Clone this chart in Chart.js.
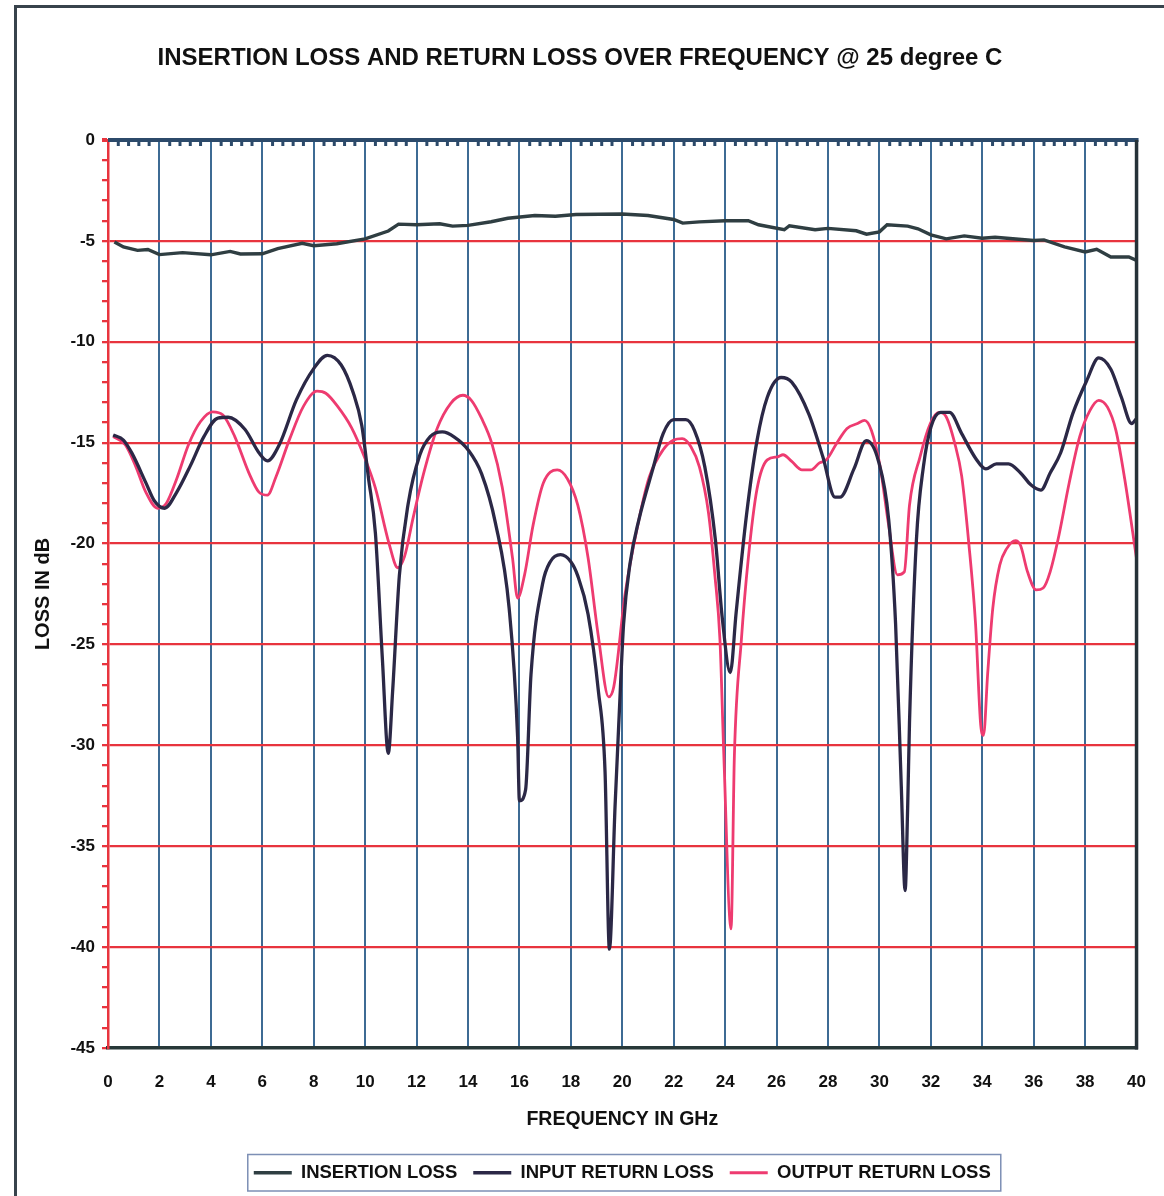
<!DOCTYPE html>
<html>
<head>
<meta charset="utf-8">
<script src="https://cdn.jsdelivr.net/npm/chart.js@4.4.1/dist/chart.umd.min.js"></script>
<style>
html,body{margin:0;padding:0;background:#fff;}
#wrap{width:1164px;height:1196px;position:relative;}
</style>
</head>
<body>
<div id="wrap"><canvas id="c" width="1164" height="1196"></canvas></div>
<script>
const chartTitle = 'INSERTION LOSS AND RETURN LOSS OVER FREQUENCY @ 25 degree C';
const xAxisTitle = 'FREQUENCY IN GHz';
const yAxisTitle = 'LOSS IN dB';
const seriesNames = ['INSERTION LOSS', 'INPUT RETURN LOSS', 'OUTPUT RETURN LOSS'];

// Insertion loss (GHz, dB)
const ilFreq = [0.25,0.6,1.15,1.55,2.0,2.9,4.0,4.75,5.15,6.0,6.6,7.55,8.0,8.9,10.0,10.9,11.3,12.0,12.9,13.4,14.0,14.9,15.55,16.6,17.4,18.2,20.0,21.0,22.0,22.35,23.0,24.0,24.9,25.3,26.3,26.5,27.5,28.0,29.1,29.5,30.0,30.3,31.1,31.5,32.0,32.6,33.3,34.0,34.5,36.0,36.4,37.2,38.0,38.45,39.0,39.7,40.0];
const ilLoss = [-5.05,-5.3,-5.47,-5.43,-5.68,-5.58,-5.69,-5.52,-5.65,-5.64,-5.38,-5.12,-5.24,-5.14,-4.9,-4.51,-4.17,-4.2,-4.15,-4.27,-4.23,-4.05,-3.88,-3.74,-3.78,-3.69,-3.67,-3.74,-3.94,-4.12,-4.06,-4.0,-4.0,-4.2,-4.45,-4.25,-4.45,-4.38,-4.5,-4.67,-4.55,-4.2,-4.27,-4.4,-4.7,-4.9,-4.75,-4.87,-4.82,-4.98,-4.95,-5.3,-5.55,-5.42,-5.8,-5.8,-5.97];

// Input return loss
const irlFreq = [0.2,0.6,0.93,1.47,1.8,2.2,2.67,3.2,3.73,4.27,4.67,5.33,5.87,6.2,6.67,7.33,8.0,8.53,9.07,9.53,9.87,10.13,10.4,10.67,10.9,11.07,11.33,11.67,12.13,12.53,13.0,13.47,14.0,14.53,15.07,15.6,15.93,16.0,16.24,16.45,16.9,17.2,17.6,18.0,18.27,18.67,19.07,19.33,19.5,19.72,19.88,20.05,20.3,20.65,21.19,21.59,22.0,22.47,22.81,23.21,23.62,23.89,24.2,24.43,24.83,25.24,25.64,26.18,26.59,27.26,27.8,28.27,28.47,29.01,29.49,29.96,30.36,30.63,30.85,31.0,31.1,31.17,31.44,31.71,32.01,32.39,32.73,33.2,33.74,34.14,34.55,35.02,35.49,35.9,36.28,36.64,37.05,37.52,38.06,38.53,39.0,39.41,39.81,40.0];
const irlLoss = [-14.62,-14.87,-15.52,-16.98,-17.88,-18.25,-17.46,-16.15,-14.7,-13.78,-13.74,-14.35,-15.5,-15.9,-15.08,-12.87,-11.33,-10.67,-11.15,-12.5,-14.15,-16.75,-19.5,-25.7,-30.4,-27.3,-21.6,-18.05,-15.6,-14.7,-14.47,-14.72,-15.35,-16.55,-19.0,-23.2,-29.6,-32.75,-32.2,-26.5,-22.0,-20.9,-20.55,-20.9,-21.6,-23.5,-27.3,-31.3,-40.1,-33.0,-28.5,-24.0,-21.0,-18.8,-16.3,-14.55,-13.86,-13.86,-14.4,-16.2,-19.8,-23.7,-26.4,-23.4,-18.6,-14.9,-12.75,-11.77,-12.0,-13.6,-15.7,-17.7,-17.7,-16.3,-14.9,-15.9,-18.8,-24.0,-32.0,-37.2,-33.0,-28.9,-19.8,-16.2,-14.2,-13.5,-13.5,-14.55,-15.77,-16.3,-16.05,-16.05,-16.5,-17.1,-17.35,-16.5,-15.5,-13.56,-11.93,-10.8,-11.36,-12.75,-14.05,-13.8];

// Output return loss
const orlFreq = [0.2,0.67,1.07,1.47,1.93,2.27,2.67,3.13,3.6,4.07,4.47,4.93,5.47,5.87,6.2,6.53,7.07,7.6,8.13,8.47,8.93,9.47,10.0,10.4,10.93,11.27,11.53,11.87,12.27,12.8,13.33,13.8,14.13,14.53,14.93,15.33,15.73,15.93,16.2,16.53,16.93,17.47,17.87,18.27,18.67,19.07,19.47,19.67,20.11,20.65,21.05,21.59,22.0,22.33,22.67,23.0,23.35,23.6,23.8,23.95,24.23,24.36,24.63,24.9,25.24,25.64,26.05,26.25,26.59,26.99,27.33,27.67,27.94,28.34,28.74,29.15,29.42,29.69,30.03,30.36,30.7,30.97,31.17,31.58,31.98,32.32,32.59,32.93,33.2,33.47,33.74,33.94,34.05,34.21,34.41,34.68,34.95,35.29,35.49,35.76,36.1,36.37,36.64,36.98,37.38,37.79,38.19,38.53,38.87,39.2,39.54,40.0];
const orlLoss = [-14.7,-15.1,-16.15,-17.45,-18.25,-18.0,-16.8,-15.1,-13.95,-13.47,-13.63,-14.7,-16.47,-17.45,-17.6,-16.7,-14.8,-13.2,-12.45,-12.55,-13.2,-14.25,-15.8,-17.25,-20.0,-21.2,-20.65,-18.7,-16.55,-14.3,-13.05,-12.65,-12.9,-13.8,-15.05,-17.2,-20.7,-22.7,-21.55,-19.1,-17.0,-16.35,-16.8,-18.1,-20.7,-24.6,-27.6,-27.1,-22.5,-18.8,-16.7,-15.35,-14.87,-14.8,-15.2,-16.2,-18.45,-21.55,-24.8,-30.5,-39.1,-30.5,-24.8,-20.75,-17.3,-15.85,-15.7,-15.6,-15.93,-16.35,-16.35,-16.0,-15.85,-15.03,-14.3,-14.05,-13.9,-14.4,-16.2,-19.1,-21.55,-21.4,-18.1,-15.7,-14.05,-13.5,-13.7,-15.03,-16.66,-19.9,-24.0,-29.0,-29.5,-26.45,-23.2,-21.07,-20.25,-19.85,-20.1,-21.4,-22.3,-22.2,-21.4,-19.6,-17.0,-14.7,-13.4,-12.9,-13.24,-14.4,-16.8,-20.75];

const FONT = "'Liberation Sans', Arial, sans-serif";
const RED = '#e8343e';
const BLUE = '#3d6b94';
const pts = (xs, ys) => xs.map((x, i) => ({x: x, y: ys[i]}));

const decor = {
  id: 'decor',
  beforeDraw(chart) {
    const ctx = chart.ctx;
    ctx.save();
    ctx.fillStyle = '#fff';
    ctx.fillRect(0, 0, chart.width, chart.height);
    ctx.strokeStyle = '#38434c';
    ctx.lineWidth = 3;
    ctx.beginPath();
    ctx.moveTo(15.5, chart.height);
    ctx.lineTo(15.5, 6.5);
    ctx.lineTo(chart.width, 6.5);
    ctx.stroke();
    ctx.restore();
  },
  afterDraw(chart) {
    const ctx = chart.ctx;
    const a = chart.chartArea;
    const x = chart.scales.x;
    ctx.save();
    ctx.strokeStyle = '#2c4a6a';
    ctx.lineWidth = 3;
    for (let k = 1; k < 100; k++) {
      if (k % 5 === 0) continue;
      const px = x.getPixelForValue(k * 0.4);
      ctx.beginPath();
      ctx.moveTo(px, a.top);
      ctx.lineTo(px, a.top + 6);
      ctx.stroke();
    }
    ctx.lineWidth = 4;
    ctx.beginPath();
    ctx.moveTo(a.left, a.top);
    ctx.lineTo(a.right + 2, a.top);
    ctx.stroke();
    ctx.strokeStyle = '#263238';
    ctx.lineWidth = 3.5;
    ctx.beginPath();
    ctx.moveTo(a.right, a.top);
    ctx.lineTo(a.right, a.bottom + 1.5);
    ctx.stroke();
    const hb = chart.legend && chart.legend.legendHitBoxes;
    if (hb && hb.length) {
      const l = hb[0].left - 6;
      const last = hb[hb.length - 1];
      const r = last.left + last.width + 10;
      const t = hb[0].top - 9;
      const b = hb[0].top + hb[0].height + 9;
      ctx.strokeStyle = '#7d8fb5';
      ctx.lineWidth = 1.5;
      ctx.strokeRect(l, t, r - l, b - t);
    }
    ctx.restore();
  }
};

new Chart(document.getElementById('c'), {
  type: 'line',
  data: {
    datasets: [
      {label: seriesNames[0], data: pts(ilFreq, ilLoss), borderColor: '#2f3e42', backgroundColor: '#2f3e42', borderWidth: 3.4, pointRadius: 0, tension: 0, fill: false},
      {label: seriesNames[1], data: pts(irlFreq, irlLoss), borderColor: '#2b2846', backgroundColor: '#2b2846', borderWidth: 3.3, pointRadius: 0, cubicInterpolationMode: 'monotone', fill: false},
      {label: seriesNames[2], data: pts(orlFreq, orlLoss), borderColor: '#ee3b70', backgroundColor: '#ee3b70', borderWidth: 2.8, pointRadius: 0, cubicInterpolationMode: 'monotone', fill: false}
    ]
  },
  options: {
    responsive: false,
    animation: false,
    devicePixelRatio: 1,
    layout: {padding: {left: 20, right: 24, top: 0, bottom: 4}},
    plugins: {
      tooltip: {enabled: false},
      title: {
        display: true,
        text: chartTitle,
        color: '#111',
        font: {family: FONT, size: 24, weight: 'bold'},
        padding: {top: 44, bottom: 67.2}
      },
      legend: {
        position: 'bottom',
        fullSize: false,
        labels: {
          usePointStyle: true,
          pointStyle: 'line',
          pointStyleWidth: 38,
          boxHeight: 18.5,
          padding: 16,
          color: '#111',
          font: {family: FONT, size: 18.5, weight: 'bold'}
        }
      }
    },
    scales: {
      x: {
        type: 'linear',
        min: 0, max: 40,
        afterFit(s) { s.height = 99.5; },
        ticks: {stepSize: 2, autoSkip: false, maxRotation: 0, padding: 18, color: '#111', font: {family: FONT, size: 17, weight: 'bold'}},
        grid: {
          color: c => (c.tick && c.tick.value > 0 && c.tick.value < 40) ? BLUE : 'rgba(0,0,0,0)',
          lineWidth: 2,
          tickColor: 'rgba(0,0,0,0)',
          tickLength: 6
        },
        border: {display: true, color: '#283838', width: 3.5},
        title: {display: true, text: xAxisTitle, color: '#111', font: {family: FONT, size: 19.5, weight: 'bold'}, padding: {top: 0, bottom: 16}}
      },
      y: {
        min: -45, max: 0,
        afterFit(s) { s.width = 88; },
        ticks: {
          stepSize: 1, autoSkip: false, padding: 7, color: '#111',
          font: {family: FONT, size: 17, weight: 'bold'},
          callback: v => (v % 5 === 0 ? String(v) : '')
        },
        grid: {
          color: c => {
            const v = c.tick ? c.tick.value : 1;
            if (v === 0) return '#2c4a6a';
            if (v === -45) return 'rgba(0,0,0,0)';
            return v % 5 === 0 ? RED : 'rgba(0,0,0,0)';
          },
          lineWidth: c => (c.tick && c.tick.value === 0 ? 4 : 2.3),
          tickColor: RED,
          tickLength: 6
        },
        border: {display: true, color: RED, width: 2.5},
        title: {display: true, text: yAxisTitle, color: '#111', font: {family: FONT, size: 20, weight: 'bold'}, padding: {top: 11, bottom: 0}}
      }
    }
  },
  plugins: [decor]
});
</script>
</body>
</html>
